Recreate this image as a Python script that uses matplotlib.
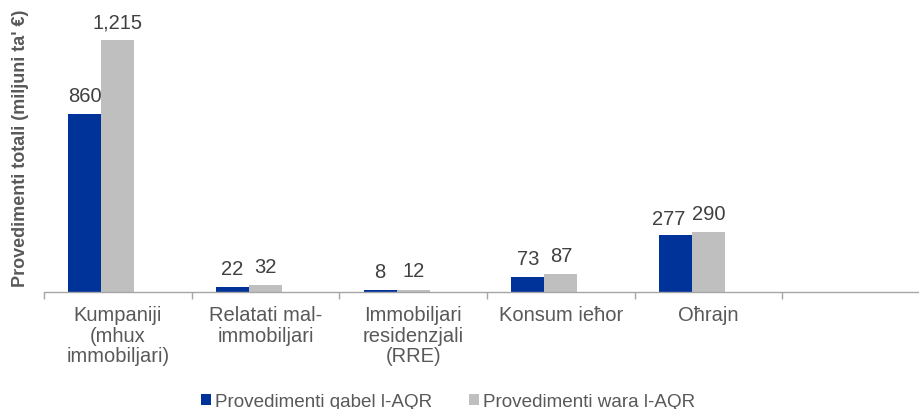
import numpy as np
import matplotlib.pyplot as plt

categories = ['Kumpaniji\n(mhux\nimmobiljari)', 'Relatati mal-\nimmobiljari',
              'Immobiljari\nresidenzjali\n(RRE)', 'Konsum ieħor', 'Oħrajn', '']
before_aqr = [860, 22, 8, 73, 277, None]
after_aqr = [1215, 32, 12, 87, 290, None]

blue = '#003399'
grey = '#BFBFBF'
txt = '#595959'

plt.rcParams['font.family'] = ['Liberation Sans', 'DejaVu Sans']

fig = plt.figure(figsize=(9.2, 4.1), dpi=100)
ax = fig.add_axes([44 / 920, 117 / 410, 886 / 920, 290 / 410])

x = np.arange(len(categories))
w = 0.2234
b_vals = [v if v is not None else 0 for v in before_aqr]
a_vals = [v if v is not None else 0 for v in after_aqr]
bars1 = ax.bar(x - w, b_vals, w, color=blue, label='Provedimenti qabel l-AQR')
bars2 = ax.bar(x, a_vals, w, color=grey, label='Provedimenti wara l-AQR')

# value labels on top of each bar; the blue label is nudged aside when
# the two labels of one group would touch
for i in range(len(categories)):
    for bars, vals, side in [(bars1, before_aqr, 0), (bars2, after_aqr, 1)]:
        v = vals[i]
        if v is None:
            continue
        bar = bars[i]
        dx, dy = 0, 6.5
        if side == 0 and v >= 100 and after_aqr[i] - v < 100:
            dx, dy = -5, 5
        ax.annotate(f'{v:,}', (bar.get_x() + bar.get_width() / 2, v),
                    xytext=(dx, dy), textcoords='offset points',
                    ha='center', va='bottom', fontsize=14.5, color='#404040')

ax.set_xlim(-0.5, len(categories) - 0.5)
ax.set_ylim(0, 1400)
ax.set_yticks([])
for s in ['top', 'right', 'left']:
    ax.spines[s].set_visible(False)
ax.spines['bottom'].set_color('#A6A6A6')
ax.spines['bottom'].set_linewidth(1)

ax.set_xticks(x)
ax.set_xticklabels(categories, fontsize=14.5, color=txt, linespacing=1.1)
ax.tick_params(axis='x', which='major', length=0, pad=9.5)
ax.set_xticks(np.arange(-0.5, len(categories), 1), minor=True)
ax.tick_params(axis='x', which='minor', length=5, color='#A6A6A6', width=1)

ax.set_ylabel("Provedimenti totali (miljuni ta' €)", fontsize=13,
              fontweight='bold', color=txt, labelpad=11)

fig.legend(handles=[bars1, bars2], loc='lower center', ncol=2,
           bbox_to_anchor=(0.487, -0.045), frameon=False, fontsize=13.6,
           handlelength=0.55, handleheight=0.55, handletextpad=0.2,
           columnspacing=1.95, labelcolor=txt)

fig.savefig('out.png', dpi=100)
